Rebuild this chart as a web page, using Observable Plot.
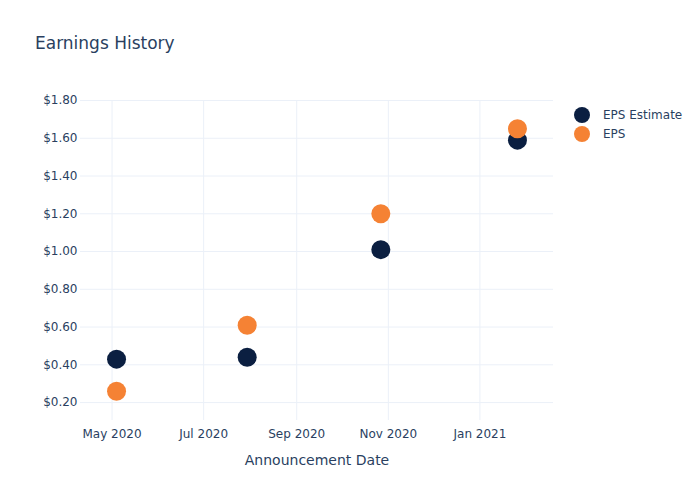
<!DOCTYPE html>
<html>
<head>
<meta charset="utf-8">
<script src="https://cdn.jsdelivr.net/npm/d3@7"></script>
<script src="https://cdn.jsdelivr.net/npm/@observablehq/plot@0.6"></script>
<style>
  body { margin: 0; background: #fff; font-family: "DejaVu Sans", sans-serif; }
  #wrap { position: relative; width: 700px; height: 500px; }
  #title { position: absolute; left: 35px; top: 33px; font-size: 17px; color: #2a3f5f; }
  #legend { position: absolute; left: 574px; top: 105px; font-size: 12px; color: #2a3f5f; }
  .li { display: flex; align-items: center; height: 19px; }
  .sw { width: 16px; height: 16px; border-radius: 50%; margin-right: 13px; }
  #chart { position: absolute; left: 0; top: 0; }
</style>
</head>
<body>
<div id="wrap">
  <div id="chart"></div>
  <div id="title">Earnings History</div>
  <div id="legend"></div>
</div>
<script>
const dates = ["2020-05-04", "2020-07-30", "2020-10-27", "2021-01-26"];
const epsEstimate = [0.43, 0.44, 1.01, 1.59];
const epsActual = [0.26, 0.61, 1.20, 1.65];
const seriesNames = ["EPS Estimate", "EPS"];
const seriesColors = ["#0b1f41", "#f58234"];
const yTicks = [0.2, 0.4, 0.6, 0.8, 1.0, 1.2, 1.4, 1.6, 1.8];
const xTicks = ["2020-05-01", "2020-07-01", "2020-09-01", "2020-11-01", "2021-01-01"];

const parse = d3.utcParse("%Y-%m-%d");
const rows = [];
dates.forEach((d, i) => {
  rows.push({date: parse(d), value: epsEstimate[i], series: seriesNames[0]});
});
dates.forEach((d, i) => {
  rows.push({date: parse(d), value: epsActual[i], series: seriesNames[1]});
});

const chart = Plot.plot({
  width: 700,
  height: 500,
  marginLeft: 80,
  marginRight: 147,
  marginTop: 100,
  marginBottom: 80,
  style: { fontFamily: "DejaVu Sans, sans-serif", fontSize: "12px", color: "#2a3f5f", background: "transparent" },
  x: {
    type: "utc",
    domain: [parse("2020-04-10"), parse("2021-02-19")],
    ticks: xTicks.map(parse),
    tickFormat: d3.utcFormat("%b %Y"),
    tickSize: 0,
    tickPadding: 9,
    label: null
  },
  y: {
    domain: [0.105, 1.80],
    ticks: yTicks,
    tickFormat: d => "$" + d.toFixed(2),
    tickSize: 0,
    tickPadding: 3,
    label: null
  },
  color: { domain: seriesNames, range: seriesColors },
  marks: [
    Plot.gridX(xTicks.map(parse), { stroke: "#ebf0f8", strokeOpacity: 1, strokeWidth: 1 }),
    Plot.gridY(yTicks, { stroke: "#ebf0f8", strokeOpacity: 1, strokeWidth: 1 }),
    Plot.axisX({ ticks: xTicks.map(parse), tickFormat: d3.utcFormat("%b %Y"), tickSize: 0, tickPadding: 9, label: null, fontSize: 12 }),
    Plot.axisY({ ticks: yTicks, tickFormat: d => "$" + d.toFixed(2), tickSize: 0, tickPadding: 3, label: null, fontSize: 12 }),
    Plot.dot(rows, { x: "date", y: "value", fill: "series", r: 9.5, stroke: null }),
    Plot.text(["Announcement Date"], { frameAnchor: "bottom", dy: 44, fontSize: 14, fill: "#2a3f5f" })
  ]
});
document.getElementById("chart").appendChild(chart);

const legend = document.getElementById("legend");
seriesNames.forEach((name, i) => {
  const row = document.createElement("div");
  row.className = "li";
  const sw = document.createElement("div");
  sw.className = "sw";
  sw.style.background = seriesColors[i];
  const t = document.createElement("span");
  t.textContent = name;
  row.appendChild(sw);
  row.appendChild(t);
  legend.appendChild(row);
});
</script>
</body>
</html>
